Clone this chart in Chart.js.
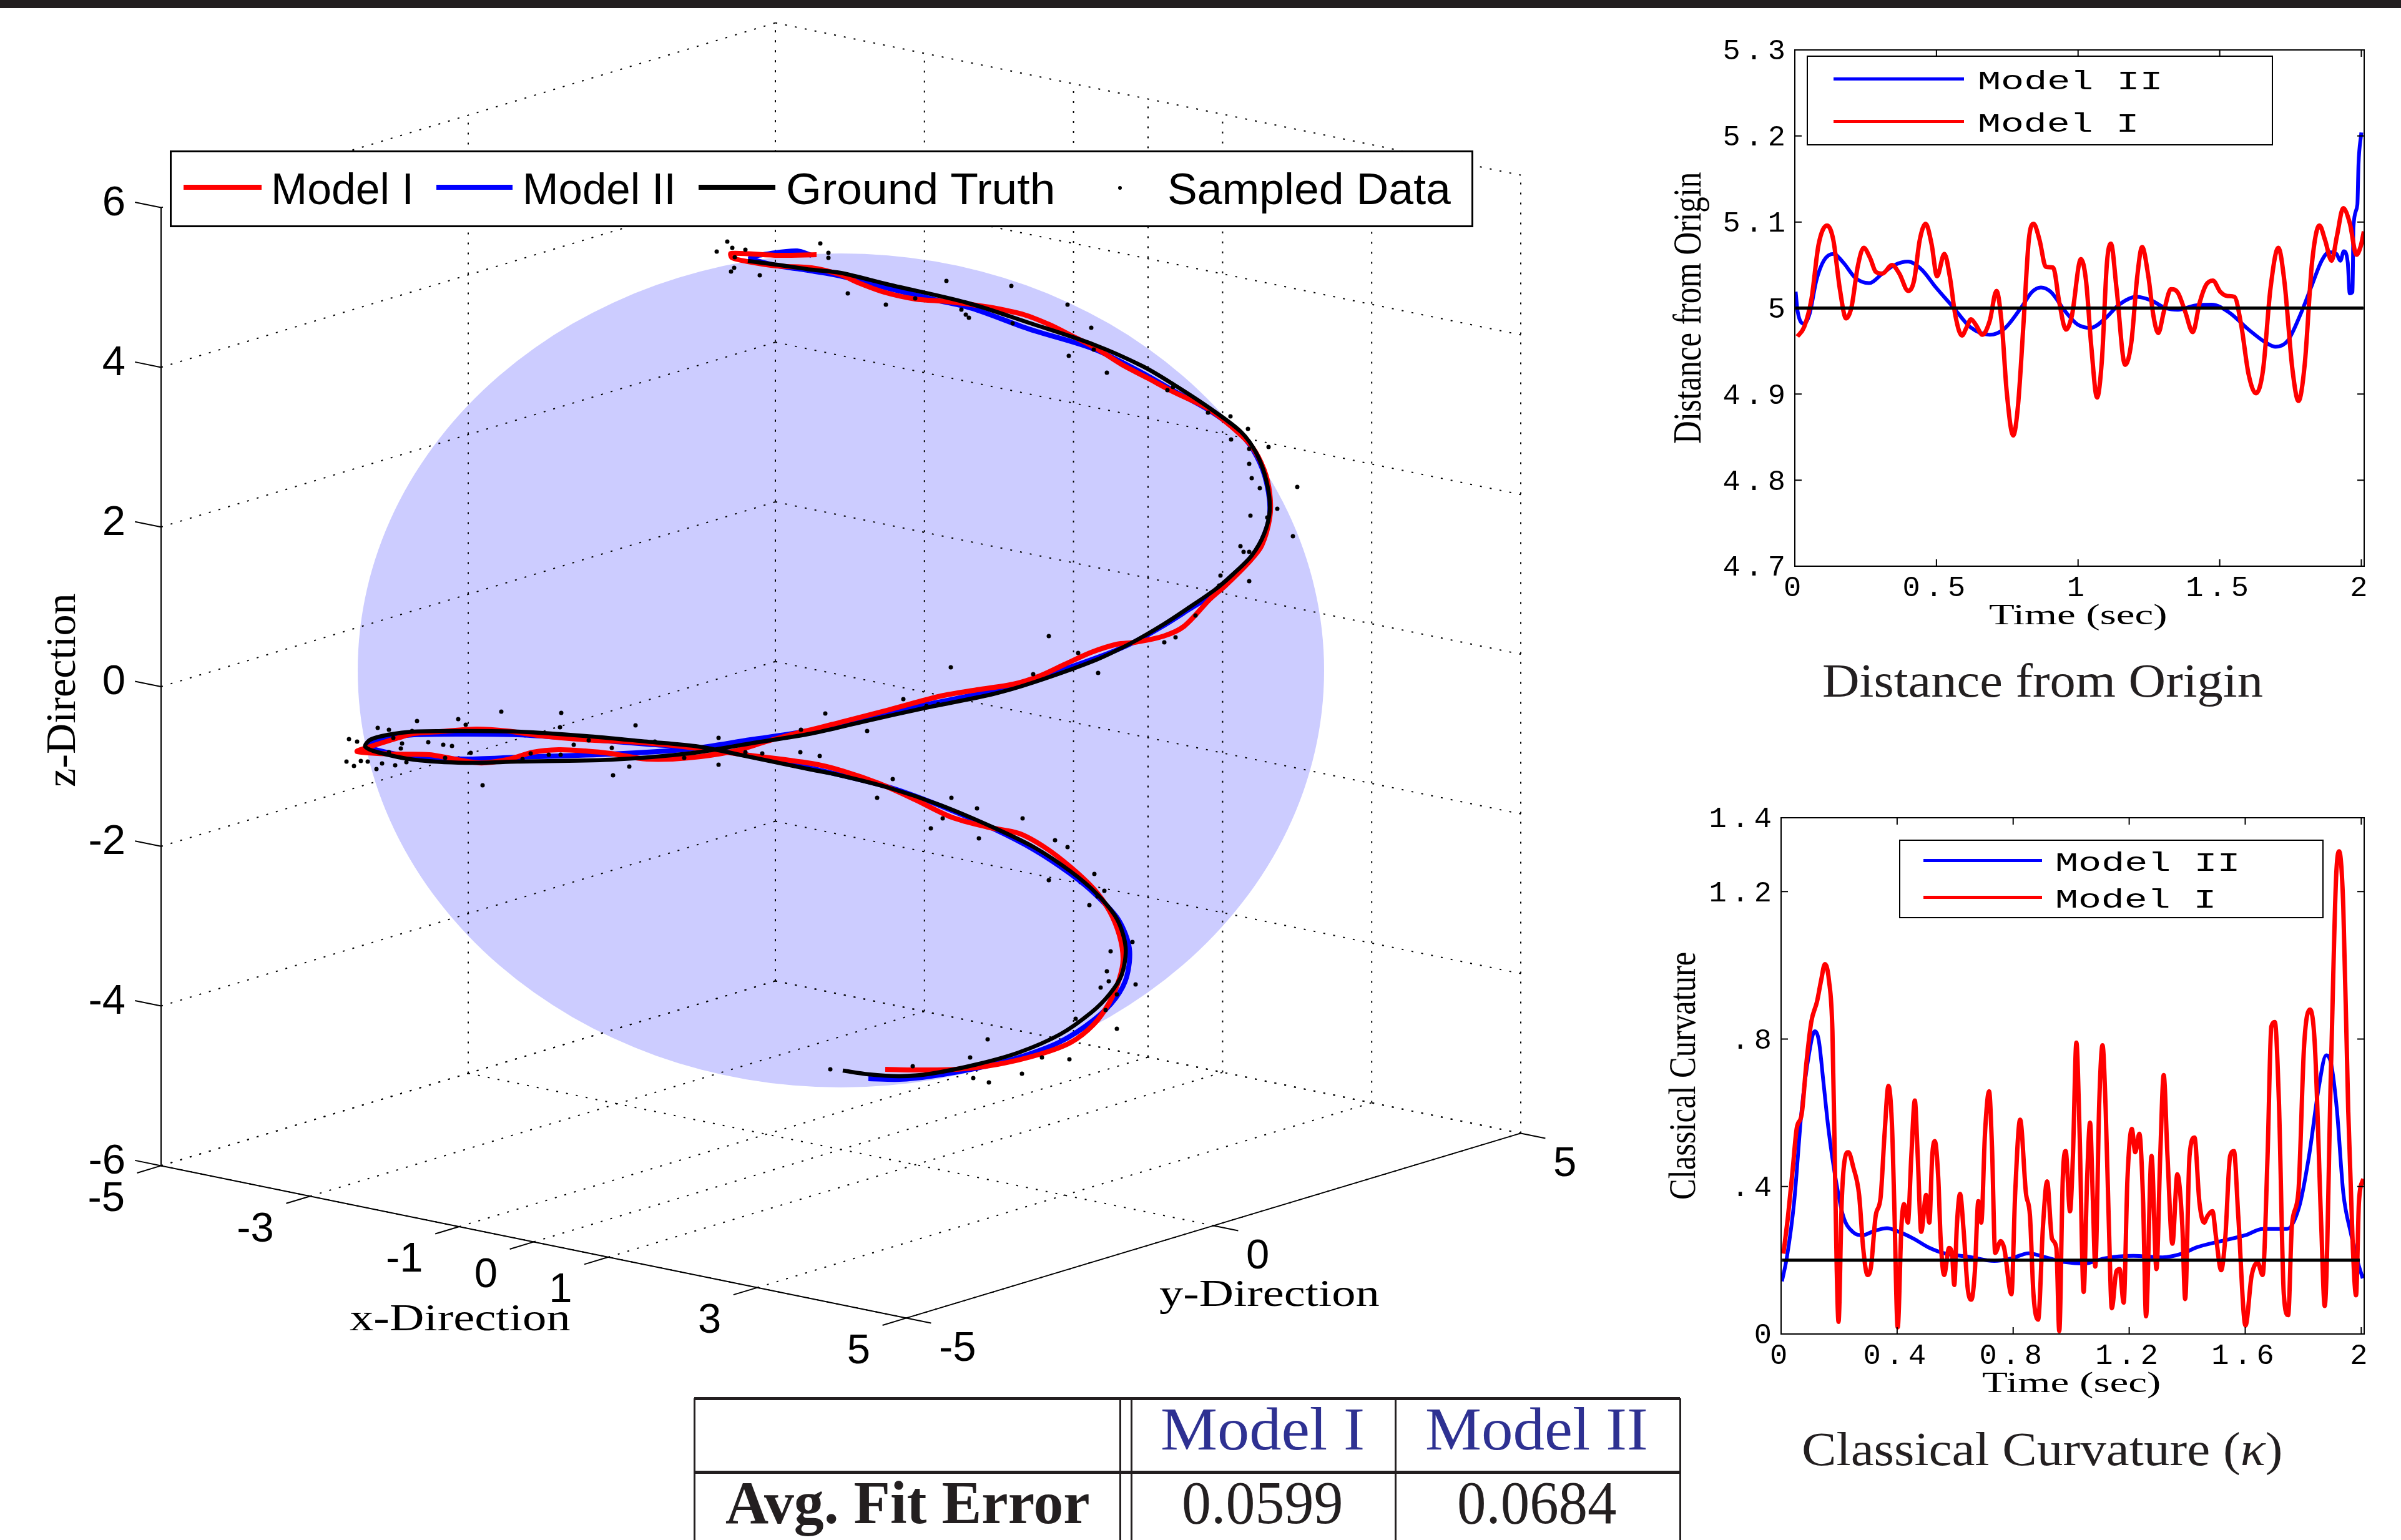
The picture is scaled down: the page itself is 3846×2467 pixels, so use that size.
<!DOCTYPE html>
<html><head><meta charset="utf-8">
<style>
html,body{margin:0;padding:0;background:#fff;width:3846px;height:2467px;overflow:hidden}
canvas{position:absolute;display:block}
.t{position:absolute;white-space:pre;line-height:1;transform-origin:0 0;color:#000}
.b{position:absolute;box-sizing:border-box}
</style>
<script src="https://cdn.jsdelivr.net/npm/chart.js@4"></script>
</head><body>
<script>
// ---------- 3D panel: axis ticks (world units) ----------
const xTicks3d=[-5,-3,-1,0,1,3,5];
const yTicks3d=[-5,0,5];
const zTicks3d=[-6,-4,-2,0,2,4,6];
// curves and samples, in the view plane of the orthographic 3D camera (origin = sphere centre)
const groundTruthView=[[-149,656],[-103,650],[-47,642],[-1,637],[77,618],[202,589],[301,557],[405,522],[484,487],[533,458],[591,420],[641,382],[666,347],[682,302],[687,257],[678,219],[658,184],[629,155],[600,130],[558,101],[517,74],[467,45],[409,17],[309,-19],[243,-38],[135,-60],[36,-82],[-47,-101],[-145,-117],[-244,-133],[-369,-143],[-518,-146],[-601,-148],[-684,-143],[-742,-131],[-762,-122],[-754,-111],[-725,-103],[-684,-98],[-601,-97],[-518,-98],[-410,-105],[-311,-114],[-228,-122],[-153,-137],[-47,-159],[-6,-167],[77,-188],[160,-216],[243,-251],[309,-283],[368,-322],[409,-357],[442,-398],[456,-443],[450,-487],[430,-519],[401,-548],[351,-583],[285,-612],[218,-631],[144,-646],[94,-650],[44,-647],[3,-641]];
const modelIView=[[-39,666],[-100,665],[-176,668],[-174,661],[-149,655],[-103,648],[-47,645],[-1,634],[28,621],[69,606],[119,595],[169,591],[210,586],[243,581],[293,570],[334,554],[368,537],[409,516],[450,490],[492,468],[533,446],[587,420],[625,391],[658,359],[678,321],[687,283],[687,245],[674,200],[654,174],[616,136],[591,114],[550,71],[517,55],[471,45],[442,42],[401,29],[359,10],[318,-9],[276,-22],[218,-31],[160,-41],[77,-63],[3,-82],[-47,-95],[-62,-98],[-120,-114],[-170,-129],[-244,-140],[-311,-142],[-369,-133],[-410,-129],[-452,-127],[-493,-131],[-535,-143],[-580,-148],[-659,-135],[-717,-134],[-775,-130],[-754,-122],[-709,-108],[-684,-101],[-642,-98],[-584,-94],[-535,-97],[-477,-105],[-410,-111],[-327,-115],[-253,-122],[-170,-133],[-47,-149],[3,-161],[61,-181],[119,-207],[177,-235],[235,-251],[285,-261],[326,-283],[368,-315],[405,-350],[430,-385],[446,-424],[452,-462],[446,-494],[430,-532],[405,-567],[368,-596],[318,-615],[251,-631],[185,-639],[127,-640],[71,-639]];
const modelIIView=[[-47,665],[-70,672],[-112,668],[-145,661],[-110,650],[-47,640],[-1,632],[77,612],[150,594],[210,580],[301,547],[405,515],[484,476],[533,448],[591,416],[641,378],[666,343],[682,300],[687,250],[675,210],[655,178],[625,150],[600,125],[558,98],[517,72],[467,44],[409,20],[309,-14],[243,-33],[135,-55],[36,-76],[-47,-96],[-145,-111],[-244,-126],[-369,-134],[-518,-139],[-601,-142],[-684,-138],[-742,-128],[-755,-120],[-745,-114],[-725,-108],[-684,-103],[-601,-102],[-518,-103],[-410,-110],[-311,-118],[-228,-124],[-153,-135],[-47,-157],[77,-187],[160,-217],[243,-253],[309,-287],[368,-326],[409,-360],[445,-400],[462,-445],[458,-490],[440,-525],[405,-560],[351,-595],[285,-620],[218,-637],[144,-650],[94,-655],[44,-654]];
const sampledView=[[-182,687],[-174,677],[-153,674],[-199,671],[-170,662],[-171,645],[-176,639],[-130,633],[-33,684],[-20,669],[-20,661],[169,624],[273,616],[11,604],[72,586],[119,596],[193,578],[200,570],[205,565],[275,556],[363,586],[401,549],[365,504],[405,514],[426,477],[523,449],[532,454],[588,413],[624,407],[652,387],[625,370],[685,358],[654,355],[654,331],[658,308],[731,294],[671,292],[699,259],[656,248],[683,245],[724,215],[640,199],[645,190],[654,190],[608,152],[654,143],[606,136],[568,88],[333,55],[518,45],[536,53],[380,28],[412,-4],[308,-6],[176,5],[100,-46],[137,-57],[156,-54],[-25,-69],[42,-97],[-34,-137],[83,-174],[58,-204],[177,-204],[218,-221],[163,-237],[291,-237],[144,-253],[221,-269],[343,-272],[363,-283],[333,-336],[406,-326],[422,-353],[411,-362],[398,-376],[467,-435],[432,-450],[426,-482],[429,-498],[472,-503],[416,-508],[442,-519],[424,-544],[376,-558],[442,-574],[235,-591],[207,-620],[322,-620],[366,-623],[115,-634],[-17,-639],[290,-646],[212,-653],[237,-660],[-544,-66],[-448,-68],[-679,-81],[-613,-78],[-601,-87],[-329,-88],[-742,-92],[-724,-95],[-450,-91],[-687,-97],[-788,-110],[-775,-114],[-717,-108],[-661,-115],[-637,-119],[-623,-121],[-703,-117],[-705,-125],[-428,-119],[-404,-112],[-298,-114],[-196,-108],[-367,-124],[-64,-95],[-65,-131],[-593,-132],[-497,-133],[-468,-135],[-449,-135],[-724,-131],[-634,-140],[-510,-142],[-696,-147],[-792,-146],[-769,-145],[-758,-146],[-780,-153],[-735,-149],[-744,-158],[-714,-152],[-339,-154],[-196,-151],[-365,-168],[-574,-184],[-251,-140],[-153,-131],[-126,-133]];

// ---------- Distance from Origin panel ----------
const distTicksX=[0,0.5,1,1.5,2];
const distTicksY=[4.7,4.8,4.9,5,5.1,5.2,5.3];
const distTickLabelsY=['4.7','4.8','4.9','5','5.1','5.2','5.3'];
const distTruth=[[0.003,5],[2.007,5]];
const distModelI=[[.009,4.967],[.033,4.978],[.059,5.011],[.084,5.074],[.114,5.096],[.136,5.079],[.159,5.022],[.181,4.988],[.2,5.001],[.222,5.048],[.243,5.07],[.266,5.058],[.286,5.042],[.309,5.04],[.343,5.05],[.369,5.04],[.4,5.02],[.421,5.032],[.441,5.079],[.462,5.098],[.483,5.074],[.502,5.037],[.528,5.063],[.547,5.037],[.567,4.991],[.59,4.968],[.607,4.978],[.622,4.987],[.64,4.98],[.662,4.969],[.688,4.985],[.712,5.02],[.731,4.98],[.748,4.903],[.771,4.852],[.788,4.887],[.809,4.991],[.826,5.079],[.843,5.098],[.864,5.079],[.886,5.048],[.912,5.047],[.934,5.006],[.957,4.975],[.978,4.991],[1.01,5.057],[1.028,5.032],[1.047,4.954],[1.067,4.896],[1.084,4.939],[1.102,5.053],[1.116,5.075],[1.136,5.022],[1.166,4.934],[1.188,4.96],[1.209,5.037],[1.226,5.071],[1.248,5.037],[1.266,4.991],[1.283,4.971],[1.303,4.996],[1.328,5.022],[1.352,5.018],[1.378,4.996],[1.405,4.972],[1.429,5.006],[1.452,5.027],[1.476,5.032],[1.502,5.019],[1.528,5.014],[1.552,5.013],[1.576,4.98],[1.602,4.923],[1.628,4.901],[1.653,4.928],[1.679,5.022],[1.707,5.07],[1.728,5.032],[1.757,4.928],[1.778,4.892],[1.8,4.934],[1.826,5.053],[1.852,5.096],[1.872,5.079],[1.895,5.055],[1.914,5.084],[1.936,5.116],[1.959,5.099],[1.983,5.062],[1.997,5.071],[2.009,5.089]];
const distModelII=[[.003,5.019],[.01,4.996],[.033,4.982],[.052,4.993],[.076,5.032],[.102,5.055],[.136,5.063],[.171,5.053],[.214,5.035],[.262,5.029],[.309,5.04],[.352,5.05],[.4,5.054],[.447,5.045],[.498,5.024],[.559,5.001],[.619,4.978],[.688,4.969],[.74,4.976],[.8,5.001],[.838,5.019],[.869,5.024],[.903,5.019],[.955,4.996],[.998,4.981],[1.045,4.977],[1.093,4.987],[1.145,5.004],[1.205,5.013],[1.257,5.009],[1.309,5],[1.352,4.998],[1.412,5.003],[1.472,5.004],[1.533,4.995],[1.602,4.975],[1.662,4.96],[1.697,4.955],[1.74,4.962],[1.783,4.991],[1.826,5.027],[1.86,5.055],[1.886,5.065],[1.912,5.063],[1.926,5.055],[1.938,5.066],[1.952,5.053],[1.959,5.017],[1.969,5.019],[1.972,5.094],[1.986,5.12],[1.99,5.167],[2,5.204]];

// ---------- Classical Curvature panel ----------
const curvTicksX=[0,0.4,0.8,1.2,1.6,2];
const curvTickLabelsX=['0','0.4','0.8','1.2','1.6','2'];
const curvTicksY=[0,0.4,0.8,1.2,1.4];
const curvTickLabelsY=['0','.4','.8','1.2','1.4'];
const curvTruth=[[0.003,0.2],[1.995,0.2]];
const curvModelI=[[.008,.218],[.024,.32],[.04,.446],[.054,.558],[.071,.596],[.087,.733],[.104,.846],[.124,.902],[.138,.959],[.151,1.003],[.165,.959],[.177,.821],[.185,.483],[.192,.17],[.198,.033],[.209,.358],[.219,.471],[.232,.493],[.249,.452],[.269,.377],[.283,.233],[.298,.16],[.31,.183],[.326,.32],[.343,.37],[.357,.546],[.37,.673],[.382,.571],[.39,.358],[.402,.018],[.415,.295],[.424,.352],[.437,.302],[.449,.483],[.461,.633],[.471,.483],[.483,.277],[.5,.377],[.511,.302],[.521,.483],[.53,.523],[.542,.421],[.55,.258],[.562,.16],[.579,.233],[.589,.22],[.597,.133],[.606,.295],[.617,.38],[.629,.283],[.643,.126],[.656,.093],[.668,.17],[.68,.36],[.69,.302],[.703,.546],[.717,.658],[.727,.508],[.738,.22],[.757,.252],[.769,.233],[.794,.108],[.807,.383],[.824,.581],[.844,.383],[.858,.32],[.87,.108],[.886,.039],[.903,.295],[.917,.414],[.934,.258],[.949,.233],[.959,.008],[.971,.421],[.981,.496],[.996,.333],[1.006,.483],[1.018,.79],[1.029,.546],[1.043,.114],[1.055,.421],[1.065,.573],[1.075,.358],[1.083,.183],[1.097,.633],[1.108,.783],[1.119,.608],[1.13,.295],[1.14,.07],[1.156,.17],[1.167,.176],[1.181,.085],[1.194,.421],[1.209,.556],[1.221,.493],[1.235,.543],[1.248,.358],[1.258,.048],[1.277,.483],[1.294,.176],[1.307,.483],[1.319,.702],[1.332,.483],[1.349,.245],[1.366,.433],[1.383,.295],[1.393,.095],[1.408,.483],[1.425,.533],[1.442,.358],[1.458,.302],[1.47,.32],[1.487,.333],[1.5,.258],[1.517,.173],[1.531,.258],[1.548,.483],[1.561,.496],[1.576,.32],[1.601,.023],[1.622,.158],[1.643,.193],[1.66,.16],[1.677,.483],[1.69,.834],[1.702,.846],[1.716,.633],[1.733,.108],[1.748,.051],[1.761,.295],[1.783,.383],[1.803,.783],[1.823,.88],[1.84,.783],[1.862,.295],[1.874,.076],[1.896,.733],[1.913,1.234],[1.924,1.309],[1.938,1.159],[1.955,.608],[1.971,.233],[1.982,.105],[1.992,.358],[2.007,.421]];
const curvModelII=[[.003,.143],[.02,.208],[.045,.358],[.071,.608],[.096,.758],[.116,.821],[.13,.796],[.146,.683],[.163,.558],[.188,.421],[.214,.32],[.247,.277],[.281,.268],[.323,.28],[.365,.287],[.407,.277],[.458,.258],[.508,.235],[.567,.218],[.643,.21],[.735,.198],[.794,.205],[.853,.219],[.912,.208],[.979,.195],[1.046,.191],[1.114,.205],[1.214,.212],[1.315,.208],[1.383,.218],[1.433,.235],[1.517,.252],[1.601,.268],[1.66,.285],[1.744,.285],[1.786,.345],[1.82,.483],[1.854,.671],[1.879,.756],[1.896,.733],[1.916,.608],[1.938,.383],[1.963,.277],[1.988,.195],[2.005,.151]];

// ---------- table ----------
const tableModels=['Model I','Model II'];
const tableRowLabel='Avg. Fit Error';
const tableValues=['0.0599','0.0684'];

// ---------- page helpers ----------
const FONT={sans:['Liberation Sans',.8465],serif:['Liberation Serif',.8375],mono:['Liberation Mono',.7665]};
function box(l,t,w,h,css){const d=document.createElement('div');d.className='b';d.style.cssText=`left:${l}px;top:${t}px;width:${w}px;height:${h}px;z-index:5;${css||''}`;document.body.appendChild(d);return d;}
function txt(html,left,base,fam,size,target,color,weight){
  const d=document.createElement('div');d.className='t';d.innerHTML=html;
  const f=FONT[fam];
  d.style.cssText=`font-family:'${f[0]}';font-size:${size}px;left:${left}px;top:${base-f[1]*size}px;z-index:6;color:${color||'#000'};font-weight:${weight||'normal'}`;
  document.body.appendChild(d);
  if(target) d.style.transform=`scaleX(${target/d.offsetWidth})`;
  return d;
}
function rot(html,xBase,yBottom,fam,size,target,color){
  const d=document.createElement('div');d.className='t';d.innerHTML=html;
  const f=FONT[fam];
  d.style.cssText=`font-family:'${f[0]}';font-size:${size}px;left:${xBase}px;top:${yBottom}px;z-index:6;color:${color||'#000'}`;
  document.body.appendChild(d);
  const s=target/d.offsetWidth;
  d.style.transform=`rotate(-90deg) scaleX(${s}) translateY(${-f[1]*size}px)`;
  return d;
}
function mkCanvas(l,t,w,h){const c=document.createElement('canvas');c.width=w;c.height=h;c.style.left=l+'px';c.style.top=t+'px';c.style.width=w+'px';c.style.height=h+'px';document.body.appendChild(c);return c;}
box(0,0,3846,13,'background:#231f20');

// ---------- 3D panel ----------
const CX=1347,CY=1074,MW=2640,MH=2467;           // sphere centre on page, canvas size
const RU=774,RV=668;                              // silhouette radii of the radius-5 sphere
const project=(x,y,z)=>({x:119.4*x+98.4*y,y:-24.4*x+29.6*y+127.9*z});  // orthographic camera
const seg=(a,b,dash,width)=>({type:'scatter',showLine:true,pointRadius:0,data:[project(...a),project(...b)],borderColor:'#000',borderWidth:width||2,borderDash:dash||[],order:10,tension:0});
const D=[3,13],mainSets=[];
xTicks3d.forEach(x=>{mainSets.push(seg([x,-5,-6],[x,5,-6],D),seg([x,5,-6],[x,5,6],D));});
yTicks3d.forEach(y=>{mainSets.push(seg([-5,y,-6],[5,y,-6],D),seg([-5,y,-6],[-5,y,6],D));});
zTicks3d.forEach(z=>{mainSets.push(seg([-5,-5,z],[-5,5,z],D),seg([-5,5,z],[5,5,z],D));});
mainSets.push(seg([-5,-5,-6],[-5,-5,6]),seg([-5,-5,-6],[5,-5,-6]),seg([5,-5,-6],[5,5,-6]));
zTicks3d.forEach(z=>mainSets.push(seg([-5,-5,z],[-5.35,-5,z])));
xTicks3d.forEach(x=>mainSets.push(seg([x,-5,-6],[x,-5.39,-6])));
yTicks3d.forEach(y=>mainSets.push(seg([5,y,-6],[5.33,y,-6])));
const curve=(name,view,color,order,w)=>({label:name,type:'scatter',showLine:true,pointRadius:0,tension:.3,data:view.map(p=>({x:p[0],y:p[1]})),borderColor:color,borderWidth:w,borderJoinStyle:'round',borderCapStyle:'butt',order});
mainSets.push(curve('Model II',modelIIView,'#0000ff',3,8),curve('Model I',modelIView,'#ff0000',2,8),curve('Ground Truth',groundTruthView,'#000000',1,6.5));
mainSets.push({label:'Sampled Data',type:'scatter',data:sampledView.map(p=>({x:p[0],y:p[1]})),pointRadius:3.5,pointBorderWidth:0,pointBackgroundColor:'#000',order:0});
const sphereAndLabels={id:'sphereAndLabels',
  beforeDatasetsDraw(c){const X=c.scales.x,Y=c.scales.y,g=c.ctx;g.save();g.fillStyle='#ccccff';g.beginPath();
    g.ellipse(X.getPixelForValue(0),Y.getPixelForValue(0),X.getPixelForValue(RU)-X.getPixelForValue(0),Y.getPixelForValue(0)-Y.getPixelForValue(RV),0,0,Math.PI*2);g.fill();g.restore();},
  afterDatasetsDraw(c){const X=c.scales.x,Y=c.scales.y,g=c.ctx;g.save();g.fillStyle='#000';g.font='67px "Liberation Sans"';g.textBaseline='middle';
    const put=(s,p,dx,dy,al)=>{g.textAlign=al;g.fillText(s,X.getPixelForValue(p.x)+dx,Y.getPixelForValue(p.y)+dy);};
    zTicks3d.forEach(z=>put(String(z),project(-5,-5,z),-57,-6,'right'));
    xTicks3d.forEach(x=>put(String(x),project(x,-5,-6),-58,54,'right'));
    yTicks3d.forEach(y=>put(String(y),project(5,y,-6),52,50,'left'));
    g.restore();}};
new Chart(mkCanvas(0,0,MW,MH),{type:'scatter',data:{datasets:mainSets},plugins:[sphereAndLabels],options:{responsive:false,animation:false,devicePixelRatio:1,layout:{padding:0,autoPadding:false},plugins:{legend:{display:false},tooltip:{enabled:false}},
  scales:{x:{type:'linear',display:false,min:-CX,max:MW-CX},y:{type:'linear',display:false,min:CY-MH,max:CY}}}});
// main legend
box(272,241,2088,123,'background:#fff;border:3.5px solid #000');
box(294,296,125,8,'background:#ff0000;z-index:7');txt('Model I',434,327,'sans',71,229);
box(699,296,122,8,'background:#0000ff;z-index:7');txt('Model II',837,327,'sans',71,246);
box(1119,296,123,8,'background:#000;z-index:7');txt('Ground Truth',1259,327,'sans',71,431);
box(1791,298,6,6,'background:#000;border-radius:50%;z-index:7');txt('Sampled Data',1870,327,'sans',71,454);
rot('z-Direction',120,1261,'serif',68,311);
txt('x-Direction',560,2131,'serif',62,354);
txt('y-Direction',1857,2092,'serif',62,353);

// ---------- 2D panels ----------
function panel(cfg){
  const c=mkCanvas(cfg.l,cfg.t,cfg.w,cfg.h);
  const frame={id:'frame',
    beforeDraw(ch){ch.ctx.save();ch.ctx.letterSpacing='8px';ch.ctx.translate(0,3);},
    beforeDatasetsDraw(ch){ch.ctx.restore();},
    afterDatasetsDraw(ch){const g=ch.ctx,a=ch.chartArea,X=ch.scales.x,Y=ch.scales.y;g.save();g.strokeStyle='#000';g.lineWidth=2;g.strokeRect(a.left,a.top,a.right-a.left,a.bottom-a.top);
      g.beginPath();const L=11;
      cfg.tx.forEach(v=>{const p=X.getPixelForValue(v);g.moveTo(p,a.bottom);g.lineTo(p,a.bottom-L);g.moveTo(p,a.top);g.lineTo(p,a.top+L);});
      cfg.ty.forEach(v=>{const p=Y.getPixelForValue(v);g.moveTo(a.left,p);g.lineTo(a.left+L,p);g.moveTo(a.right,p);g.lineTo(a.right-L,p);});
      g.stroke();g.restore();}};
  const line=(name,d,color,order,w)=>({label:name,data:d.map(p=>({x:p[0],y:p[1]})),showLine:true,pointRadius:0,borderColor:color,borderWidth:w,cubicInterpolationMode:'monotone',borderJoinStyle:'round',order});
  new Chart(c,{type:'scatter',plugins:[frame],data:{datasets:[line('Ground Truth',cfg.truth,'#000',1,5),line('Model I',cfg.red,'#ff0000',2,7),line('Model II',cfg.blue,'#0000ff',3,6)]},
    options:{responsive:false,animation:false,devicePixelRatio:1,layout:{padding:{top:cfg.pt,right:cfg.pr,left:0,bottom:0},autoPadding:false},plugins:{legend:{display:false},tooltip:{enabled:false}},
    scales:{
      x:{type:'linear',min:0,max:2.01,grid:{display:false,drawTicks:false},border:{display:false},
        afterBuildTicks:s=>{s.ticks=cfg.tx.map(v=>({value:v}));},afterFit:s=>{s.height=cfg.xh;},
        ticks:{autoSkip:false,maxRotation:0,minRotation:0,padding:4,color:'#000',font:{family:'Liberation Mono',size:47},callback:(v)=>cfg.lx[cfg.tx.indexOf(v)]}},
      y:{type:'linear',min:cfg.ymin,max:cfg.ymax,grid:{display:false,drawTicks:false},border:{display:false},
        afterBuildTicks:s=>{s.ticks=cfg.ty.map(v=>({value:v}));},afterFit:s=>{s.width=cfg.yw;},
        ticks:{autoSkip:false,padding:7,color:'#000',font:{family:'Liberation Mono',size:47},callback:(v)=>cfg.ly[cfg.ty.indexOf(v)]}}}}});
}
panel({l:2740,t:40,w:1106,h:1000,pt:40,pr:59,xh:133,yw:135,ymin:4.7,ymax:5.3,tx:distTicksX,ty:distTicksY,lx:distTicksX.map(String),ly:distTickLabelsY,truth:distTruth,red:distModelI,blue:distModelII});
panel({l:2720,t:1270,w:1126,h:1000,pt:40,pr:59,xh:133,yw:133,ymin:0,ymax:1.4,tx:curvTicksX,ty:curvTicksY,lx:curvTickLabelsX,ly:curvTickLabelsY,truth:curvTruth,red:curvModelI,blue:curvModelII});

// panel legends
function miniLegend(l,t,w,h,x0,x1,y1,y2,tx){
  box(l,t,w,h,'border:2px solid #000;background:#fff');
  box(x0,y1-2.5,x1-x0,5,'background:#0000ff;z-index:7');
  box(x0,y2-2.5,x1-x0,5,'background:#ff0000;z-index:7');
  txt('Model II',tx,y1+17,'mono',43,296);
  txt('Model I',tx,y2+17,'mono',43,259);
}
miniLegend(2894,89,747,144,2937,3146,126,194,3168);
miniLegend(3042,1345,680,126,3081,3271,1378,1437,3292);
// panel axis labels
rot('Distance from Origin',2725,711,'serif',64,435);
rot('Classical Curvature',2715,1922,'serif',62,397);
txt('Time (sec)',3186,1000,'serif',47,286);
txt('Time (sec)',3175,2230,'serif',47,287);
txt('Distance from Origin',2919,1116,'serif',76,706,'#231f20');
txt('Classical Curvature (<i>κ</i>)',2886,2347,'serif',76,770,'#231f20');

// ---------- table ----------
const LC='#231f20';
box(1112,2238,1579,5,'background:'+LC);
box(1112,2356,1579,5,'background:'+LC);
[1112,1794,1812,2235,2691].forEach(x=>box(x-1,2240,3,227,'background:'+LC));
txt(tableModels[0],1859,2322,'serif',98,327,'#2e3192');
txt(tableModels[1],2283,2322,'serif',98,357,'#2e3192');
txt(tableRowLabel,1162,2440,'serif',98,584,'#231f20','bold');
txt(tableValues[0],1893,2440,'serif',98,259,'#231f20');
txt(tableValues[1],2334,2440,'serif',98,256,'#231f20');
</script>
</body></html>
